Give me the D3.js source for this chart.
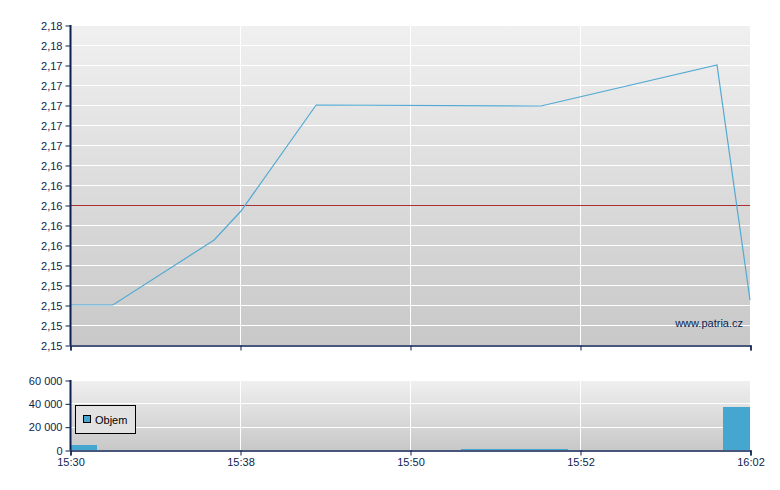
<!DOCTYPE html>
<html>
<head>
<meta charset="utf-8">
<script src="https://cdn.jsdelivr.net/npm/d3@7"></script>
<style>
  html, body { margin: 0; padding: 0; background: #fff; }
  svg { display: block; font-family: "Liberation Sans", Arial, sans-serif; }
</style>
</head>
<body>
<svg id="chart" width="780" height="490"></svg>
<script>
// ---- data ----
const xTickPositions = [0, 5, 10, 15, 20];
const xTickLabels = ["15:30", "15:38", "15:50", "15:52", "16:02"];
const pricePositions = [0, 1.26, 4.24, 5.03, 7.24, 13.85, 19.03, 20];
const priceValues = [2.150, 2.150, 2.1565, 2.1594, 2.1700, 2.1699, 2.1740, 2.1505];
const referencePrice = 2.16;
const priceTicks = [2.146, 2.148, 2.150, 2.152, 2.154, 2.156, 2.158, 2.160, 2.162,
                    2.164, 2.166, 2.168, 2.170, 2.172, 2.174, 2.176, 2.178];
const volumeStarts = [0, 11.5, 19.2];
const volumeEnds = [0.8, 14.65, 20];
const volumeValues = [4300, 1000, 37000];
const volumeTicks = [0, 20000, 40000, 60000];
const legendLabel = "Objem";
const watermark = "www.patria.cz";

// ---- setup ----
const svg = d3.select("#chart");
const navy = "#0b1f4f";
const left = 70, right = 750;
const priceTop = 25, priceBottom = 345;
const volTop = 380, volBottom = 450;

const x = d3.scaleLinear().domain([0, 20]).range([left, right]);
const yP = d3.scaleLinear().domain([2.146, 2.178]).range([priceBottom, priceTop]);
const yV = d3.scaleLinear().domain([0, 60000]).range([volBottom, volTop]);

const defs = svg.append("defs");
const grad = defs.append("linearGradient").attr("id", "bg").attr("x1", 0).attr("y1", 0).attr("x2", 0).attr("y2", 1);
grad.append("stop").attr("offset", "0%").attr("stop-color", "#f0f0f0");
grad.append("stop").attr("offset", "100%").attr("stop-color", "#c8c8c8");

const locale = d3.formatLocale({decimal: ",", thousands: "\u00a0", grouping: [3], currency: ["", ""]});
const fmtPrice = v => locale.format(".2f")(v);
const fmtVol = locale.format(",d");

function panel(top, bottom, yScale, ticks, fmt) {
  svg.append("rect").attr("x", left).attr("y", top).attr("width", right - left).attr("height", bottom - top)
    .attr("fill", "url(#bg)");
  const g = svg.append("g").attr("shape-rendering", "crispEdges");
  // horizontal grid
  g.selectAll(".hg").data(ticks.filter(t => yScale(t) < bottom - 0.5)).join("line")
    .attr("x1", left).attr("x2", right)
    .attr("y1", d => Math.round(yScale(d)) + 0.5).attr("y2", d => Math.round(yScale(d)) + 0.5)
    .attr("stroke", "#fff").attr("stroke-width", 1);
  // vertical grid
  g.selectAll(".vg").data(xTickPositions.slice(1, -1)).join("line")
    .attr("x1", d => Math.round(x(d)) + 0.5).attr("x2", d => Math.round(x(d)) + 0.5)
    .attr("y1", top).attr("y2", bottom)
    .attr("stroke", "#fff").attr("stroke-width", 1);
}

function axes(top, bottom, yScale, ticks, fmt, showXLabels) {
  const ya = d3.axisLeft(yScale).tickValues(ticks).tickFormat(fmt).tickSizeOuter(0).tickSize(5).tickPadding(3);
  const gy = svg.append("g").attr("transform", `translate(${left + 0.5},0.5)`).call(ya);
  gy.select(".domain").attr("stroke", navy).attr("stroke-width", 2).attr("d", `M0,${top - 0.5}V${bottom}`);
  gy.selectAll(".tick line").attr("stroke", navy);
  gy.selectAll(".tick text").attr("fill", navy).attr("font-size", 11)
    .attr("font-family", "'Liberation Sans', Arial, sans-serif");

  const xa = d3.axisBottom(x).tickValues(xTickPositions)
    .tickFormat((d, i) => showXLabels ? xTickLabels[i] : "").tickSizeOuter(0).tickSize(5).tickPadding(3);
  const gx = svg.append("g").attr("transform", `translate(0.5,${bottom + 0.5})`).call(xa);
  gx.select(".domain").attr("stroke", navy).attr("stroke-width", 1.5);
  gx.selectAll(".tick line").attr("stroke", navy);
  gx.selectAll(".tick text").attr("fill", navy).attr("font-size", 11)
    .attr("font-family", "'Liberation Sans', Arial, sans-serif");
  gy.raise();
}

// ---- price panel ----
panel(priceTop, priceBottom, yP, priceTicks, fmtPrice);

svg.append("line").attr("shape-rendering", "crispEdges")
  .attr("x1", left).attr("x2", right)
  .attr("y1", Math.round(yP(referencePrice)) + 0.5).attr("y2", Math.round(yP(referencePrice)) + 0.5)
  .attr("stroke", "#a83232").attr("stroke-width", 1);

const priceData = pricePositions.map((p, i) => [p, priceValues[i]]);
svg.append("path").datum(priceData)
  .attr("d", d3.line().x(d => x(d[0])).y(d => yP(d[1])))
  .attr("fill", "none").attr("stroke", "#52aad3").attr("stroke-width", 1.2);

svg.append("text").attr("x", 743).attr("y", 327).attr("text-anchor", "end")
  .attr("font-size", 11).attr("fill", navy).text(watermark);

axes(priceTop, priceBottom, yP, priceTicks, fmtPrice, false);

// ---- volume panel ----
panel(volTop, volBottom, yV, volumeTicks, fmtVol);

svg.append("g").attr("shape-rendering", "crispEdges")
  .selectAll("rect").data(volumeValues).join("rect")
  .attr("x", (d, i) => x(volumeStarts[i]))
  .attr("width", (d, i) => x(volumeEnds[i]) - x(volumeStarts[i]))
  .attr("y", d => yV(d))
  .attr("height", d => volBottom - yV(d))
  .attr("fill", "#45a6cf");

// legend
const lg = svg.append("g").attr("shape-rendering", "crispEdges");
lg.append("rect").attr("x", 75.5).attr("y", 405.5).attr("width", 60).attr("height", 28)
  .attr("fill", "#e2e2e2").attr("stroke", "#000").attr("stroke-width", 1);
lg.append("rect").attr("x", 83.5).attr("y", 415.5).attr("width", 7).attr("height", 7)
  .attr("fill", "#45a6cf").attr("stroke", "#000").attr("stroke-width", 1);
svg.append("text").attr("x", 95).attr("y", 424).attr("font-size", 11).attr("fill", "#000").text(legendLabel);

axes(volTop, volBottom, yV, volumeTicks, fmtVol, true);
</script>
</body>
</html>
